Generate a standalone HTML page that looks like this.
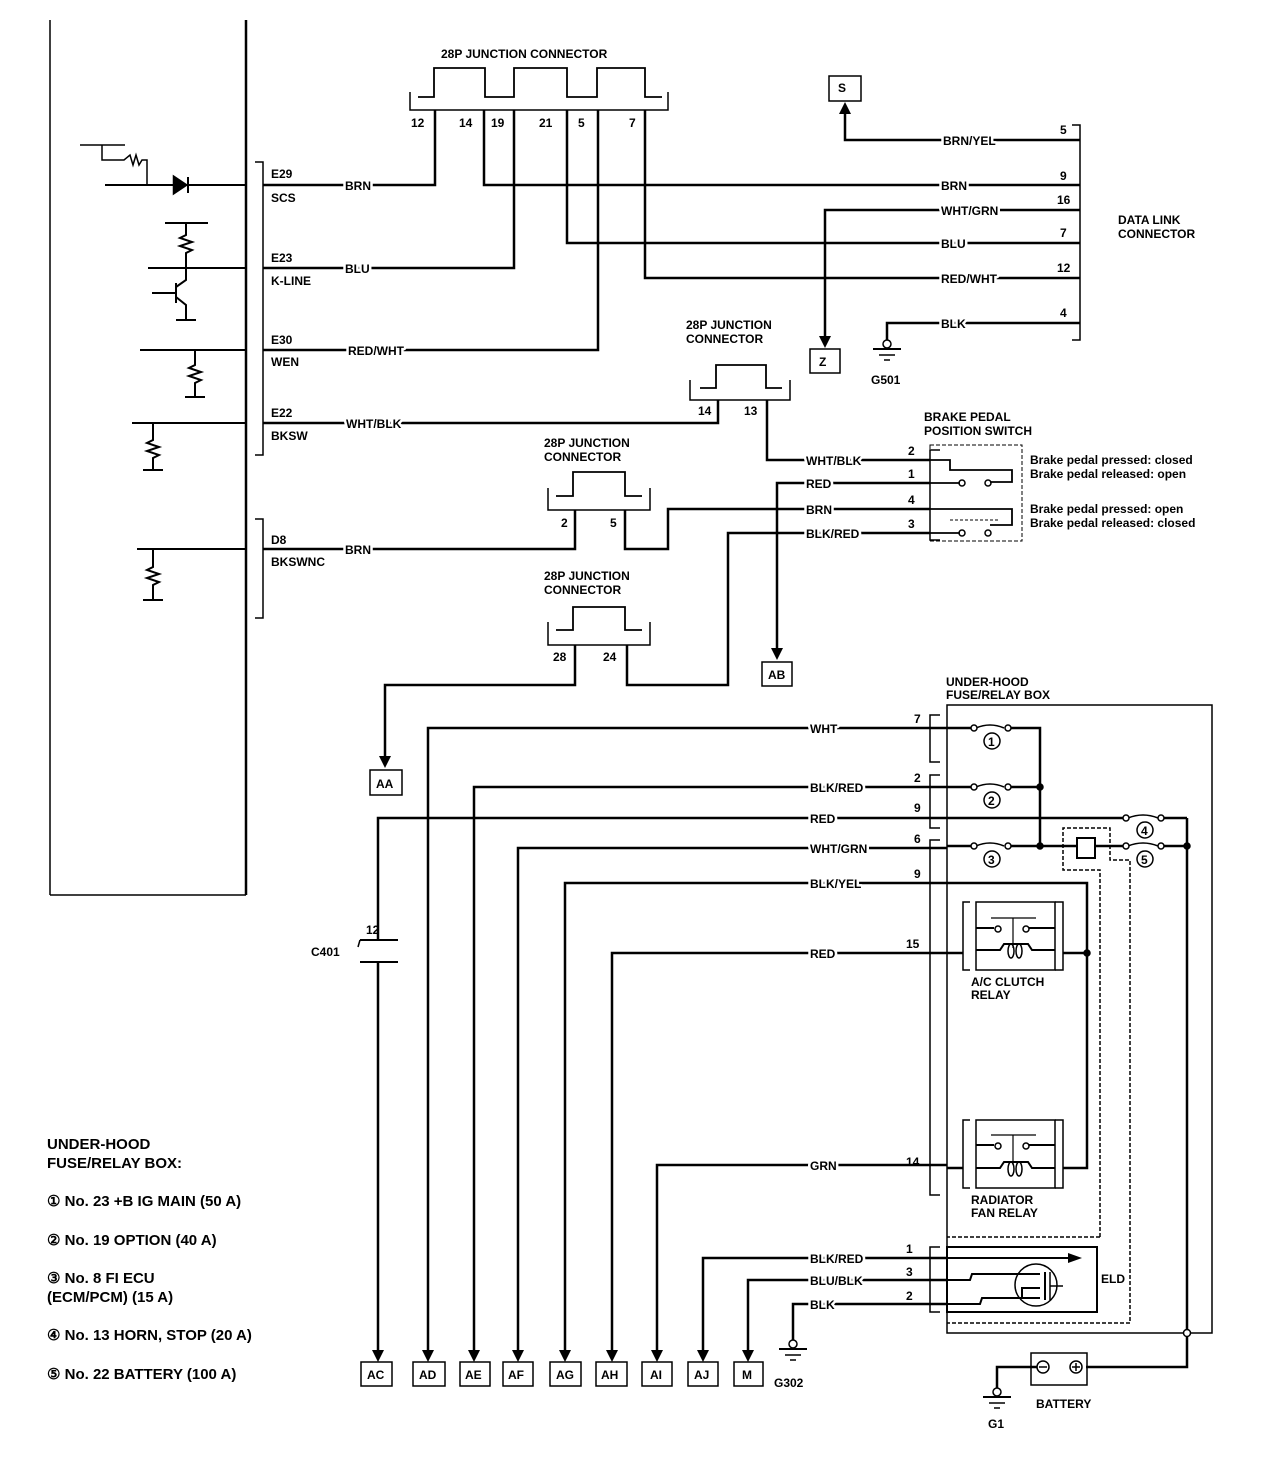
<!DOCTYPE html>
<html><head><meta charset="utf-8"><style>
html,body{margin:0;padding:0;background:#fff;}
svg{display:block;}
text{font-family:"Liberation Sans",sans-serif;font-weight:bold;font-size:12px;fill:#000;}
.b{font-size:15px;}
.w{stroke:#fff;stroke-width:5px;paint-order:stroke;stroke-linejoin:round;}
</style></head><body>
<svg width="1280" height="1476" viewBox="0 0 1280 1476" xmlns="http://www.w3.org/2000/svg">
<g fill="none" stroke="#000" stroke-width="2.5">
<line x1="50" y1="20" x2="50" y2="895" stroke-width="1.5"/>
<line x1="246" y1="20" x2="246" y2="895"/>
<line x1="50" y1="895" x2="246" y2="895" stroke-width="1.5"/>
<polyline points="255,162 263,162 263,455 255,455" stroke-width="1.5"/>
<polyline points="255,519 263,519 263,618 255,618" stroke-width="1.5"/>
<polyline points="80,145 125,145" stroke-width="1.5"/>
<polyline points="102,145 102,160 124,160 130,155 133,165 136,155 139,165 142,160 147,160 147,185" stroke-width="1.5"/>
<line x1="105" y1="185" x2="246" y2="185" stroke-width="2"/>
<polygon points="174,177 174,193 186,185" fill="#000"/>
<line x1="188" y1="177" x2="188" y2="193" stroke-width="2"/>
<line x1="165" y1="223" x2="208" y2="223" stroke-width="2"/>
<polyline points="186,223 186,235 180,238 192,242 180,246 192,250 186,253 186,268" stroke-width="2"/>
<line x1="148" y1="268" x2="246" y2="268" stroke-width="2"/>
<polyline points="186,268 186,280 176,287" stroke-width="2"/>
<line x1="152" y1="293" x2="176" y2="293" stroke-width="2"/>
<line x1="176" y1="283" x2="176" y2="303" stroke-width="2"/>
<polyline points="176,297 186,305 186,320" stroke-width="2"/>
<line x1="176" y1="320" x2="196" y2="320" stroke-width="2"/>
<line x1="140" y1="350" x2="246" y2="350" stroke-width="2"/>
<polyline points="195,350 195,365 189,368 201,372 189,376 201,380 195,383 195,397" stroke-width="2"/>
<line x1="185" y1="397" x2="205" y2="397" stroke-width="2"/>
<line x1="132" y1="423" x2="246" y2="423" stroke-width="2"/>
<polyline points="153,423 153,440 147,443 159,447 147,451 159,455 153,458 153,470" stroke-width="2"/>
<line x1="143" y1="470" x2="163" y2="470" stroke-width="2"/>
<line x1="137" y1="549" x2="246" y2="549" stroke-width="2"/>
<polyline points="153,549 153,567 147,570 159,574 147,578 159,582 153,585 153,600" stroke-width="2"/>
<line x1="143" y1="600" x2="163" y2="600" stroke-width="2"/>
<polyline points="410,92 410,110 668,110 668,92" stroke-width="1.5"/>
<polyline points="418,97 434,97 434,68 485,68 485,97 500,97" stroke-width="1.8"/>
<polyline points="500,97 514,97 514,68 567,68 567,97 582,97" stroke-width="1.8"/>
<polyline points="582,97 597,97 597,68 645,68 645,97 662,97" stroke-width="1.8"/>
<polyline points="263,185 435,185 435,110"/>
<polyline points="484,110 484,185 1080,185"/>
<polyline points="263,268 514,268 514,110"/>
<polyline points="567,110 567,243 1080,243"/>
<polyline points="263,350 598,350 598,110"/>
<polyline points="645,110 645,278 1080,278"/>
<polyline points="1072,125 1080,125 1080,340 1072,340" stroke-width="1.5"/>
<polyline points="1080,140 845,140 845,112"/>
<polygon points="839,114 851,114 845,102" fill="#000" stroke="none"/>
<rect x="829" y="76" width="32" height="25" stroke-width="1.5"/>
<polyline points="1080,210 825,210 825,338"/>
<polygon points="819,336 831,336 825,348" fill="#000" stroke="none"/>
<rect x="810" y="349" width="30" height="24" stroke-width="1.5"/>
<polyline points="1080,323 887,323 887,340"/>
<circle cx="887" cy="344" r="4" stroke-width="1.5"/>
<line x1="873" y1="349" x2="901" y2="349" stroke-width="2"/>
<line x1="879" y1="355" x2="895" y2="355" stroke-width="1.5"/>
<line x1="884" y1="360" x2="890" y2="360" stroke-width="1.5"/>
<polyline points="690,380 690,400 790,400 790,380" stroke-width="1.5"/>
<polyline points="700,388 716,388 716,365 766,365 766,388 782,388" stroke-width="1.8"/>
<polyline points="263,423 718,423 718,400"/>
<polyline points="767,400 767,460 930,460"/>
<rect x="930" y="445" width="92" height="96" stroke-width="1" stroke-dasharray="4,2"/>
<polyline points="940,450 930,450 930,540 940,540" stroke-width="1.5"/>
<polyline points="930,460 950,460 950,470 1012,470 1012,482 990,482" stroke-width="1.8"/>
<polyline points="930,483 960,483" stroke-width="1.8"/>
<circle cx="962" cy="483" r="3" stroke-width="1.5"/><circle cx="988" cy="483" r="3" stroke-width="1.5"/>
<polyline points="930,509 1012,509 1012,525 990,525" stroke-width="1.8"/>
<polyline points="950,520 1000,520" stroke-width="1" stroke-dasharray="3,2"/>
<polyline points="930,533 960,533" stroke-width="1.8"/>
<circle cx="962" cy="533" r="3" stroke-width="1.5"/><circle cx="988" cy="533" r="3" stroke-width="1.5"/>
<polyline points="548,488 548,510 650,510 650,488" stroke-width="1.5"/>
<polyline points="556,496 573,496 573,472 625,472 625,496 642,496" stroke-width="1.8"/>
<polyline points="263,549 575,549 575,510"/>
<polyline points="625,510 625,549 668,549 668,509 930,509"/>
<polyline points="930,483 777,483 777,650"/>
<polygon points="771,648 783,648 777,660" fill="#000" stroke="none"/>
<rect x="762" y="662" width="30" height="24" stroke-width="1.5"/>
<polyline points="930,533 728,533 728,685 627,685 627,645"/>
<polyline points="548,622 548,645 650,645 650,622" stroke-width="1.5"/>
<polyline points="556,630 573,630 573,607 625,607 625,630 642,630" stroke-width="1.8"/>
<polyline points="575,645 575,685 385,685 385,758"/>
<polygon points="379,756 391,756 385,768" fill="#000" stroke="none"/>
<rect x="370" y="770" width="32" height="25" stroke-width="1.5"/>
<polyline points="947,728 428,728 428,1352"/>
<polyline points="947,787 474,787 474,1352"/>
<polyline points="1123,818 378,818 378,940"/>
<polyline points="1164,818 1187,818"/>
<polyline points="378,962 378,1352"/>
<polyline points="947,848 518,848 518,1352"/>
<polyline points="947,883 565,883 565,1352"/>
<polyline points="947,953 612,953 612,1352"/>
<polyline points="947,1165 657,1165 657,1352"/>
<polyline points="947,1258 703,1258 703,1352"/>
<polyline points="947,1280 748,1280 748,1352"/>
<polyline points="947,1304 793,1304 793,1340"/>
<circle cx="793" cy="1344" r="4" stroke-width="1.5"/>
<line x1="779" y1="1349" x2="807" y2="1349" stroke-width="2"/>
<line x1="785" y1="1355" x2="801" y2="1355" stroke-width="1.5"/>
<line x1="790" y1="1360" x2="796" y2="1360" stroke-width="1.5"/>
<g stroke="#000" fill="#000" stroke-width="0">
<polygon points="372,1350 384,1350 378,1362"/><polygon points="422,1350 434,1350 428,1362"/>
<polygon points="468,1350 480,1350 474,1362"/><polygon points="512,1350 524,1350 518,1362"/>
<polygon points="559,1350 571,1350 565,1362"/><polygon points="606,1350 618,1350 612,1362"/>
<polygon points="651,1350 663,1350 657,1362"/><polygon points="697,1350 709,1350 703,1362"/>
<polygon points="742,1350 754,1350 748,1362"/>
</g>
<polyline points="360,940 398,940" stroke-width="2"/>
<polyline points="358,947 360,940" stroke-width="1.5"/>
<polyline points="360,962 398,962" stroke-width="2"/>
<rect x="361" y="1362" width="31" height="24" stroke-width="1.5"/>
<rect x="413" y="1362" width="32" height="24" stroke-width="1.5"/>
<rect x="460" y="1362" width="30" height="24" stroke-width="1.5"/>
<rect x="503" y="1362" width="30" height="24" stroke-width="1.5"/>
<rect x="550" y="1362" width="31" height="24" stroke-width="1.5"/>
<rect x="596" y="1362" width="31" height="24" stroke-width="1.5"/>
<rect x="642" y="1362" width="30" height="24" stroke-width="1.5"/>
<rect x="688" y="1362" width="30" height="24" stroke-width="1.5"/>
<rect x="734" y="1362" width="29" height="24" stroke-width="1.5"/>
<rect x="947" y="705" width="265" height="628" stroke-width="1.5"/>
<polyline points="940,715 930,715 930,762 940,762" stroke-width="1.5"/>
<polyline points="940,775 930,775 930,828 940,828" stroke-width="1.5"/>
<polyline points="940,840 930,840 930,1195 940,1195" stroke-width="1.5"/>
<polyline points="940,1247 930,1247 930,1312 940,1312" stroke-width="1.5"/>
<polyline points="947,728 972,728"/><polyline points="1008,728 1040,728 1040,846"/>
<path d="M976,728 Q990,722 1004,728" stroke-width="1.5"/>
<circle cx="974" cy="728" r="3" fill="#fff" stroke-width="1.5"/><circle cx="1008" cy="728" r="3" fill="#fff" stroke-width="1.5"/>
<polyline points="947,787 972,787"/><polyline points="1008,787 1040,787"/>
<path d="M976,787 Q990,781 1004,787" stroke-width="1.5"/>
<circle cx="974" cy="787" r="3" fill="#fff" stroke-width="1.5"/><circle cx="1008" cy="787" r="3" fill="#fff" stroke-width="1.5"/>
<polyline points="947,846 972,846"/><polyline points="1008,846 1078,846"/>
<path d="M976,846 Q990,840 1004,846" stroke-width="1.5"/>
<circle cx="974" cy="846" r="3" fill="#fff" stroke-width="1.5"/><circle cx="1008" cy="846" r="3" fill="#fff" stroke-width="1.5"/>
<rect x="1077" y="838" width="18" height="20" stroke-width="2"/>
<polyline points="1095,846 1125,846"/><polyline points="1162,846 1187,846"/>
<path d="M1128,846 Q1143,840 1158,846" stroke-width="1.5"/>
<circle cx="1126" cy="846" r="3" fill="#fff" stroke-width="1.5"/><circle cx="1161" cy="846" r="3" fill="#fff" stroke-width="1.5"/>
<path d="M1128,818 Q1143,812 1158,818" stroke-width="1.5"/>
<circle cx="1126" cy="818" r="3" fill="#fff" stroke-width="1.5"/><circle cx="1161" cy="818" r="3" fill="#fff" stroke-width="1.5"/>
<polyline points="1187,818 1187,1333 1187,1367 1086,1367"/>
<circle cx="1040" cy="787" r="2.5" fill="#000"/><circle cx="1040" cy="846" r="2.5" fill="#000"/><circle cx="1187" cy="846" r="2.5" fill="#000"/>
<circle cx="1187" cy="1333" r="3.5" fill="#fff" stroke-width="1.5"/>
<polyline points="1100,1237 1100,870 1063,870 1063,828 1110,828 1110,860 1130,860 1130,1323 947,1323" stroke-width="1.5" stroke-dasharray="4,2"/>
<polyline points="1100,1237 947,1237" stroke-width="1.5" stroke-dasharray="4,2"/>
<polyline points="947,883 1087,883 1087,1168 1063,1168"/>
<line x1="1063" y1="953" x2="1087" y2="953"/>
<circle cx="1087" cy="953" r="2.5" fill="#000"/>
<polyline points="970,902 963,902 963,970 970,970" stroke-width="1.5"/>
<polyline points="1055,902 1063,902 1063,970 1055,970" stroke-width="1.5"/>
<rect x="976" y="902" width="79" height="68" stroke-width="1.5"/>
<line x1="991" y1="918" x2="1036" y2="918" stroke-width="1.2"/>
<line x1="1013" y1="918" x2="1013" y2="948" stroke-width="1.2"/>
<polyline points="976,928 994,928" stroke-width="2"/><polyline points="1029,928 1055,928" stroke-width="2"/>
<circle cx="998" cy="929" r="3" stroke-width="1.5"/><circle cx="1026" cy="929" r="3" stroke-width="1.5"/>
<polyline points="976,950 1000,950 1004,944 1028,944 1032,950 1055,950" stroke-width="2"/>
<ellipse cx="1011" cy="951" rx="3" ry="7" stroke-width="1.5"/><ellipse cx="1019" cy="951" rx="3" ry="7" stroke-width="1.5"/>
<line x1="947" y1="953" x2="963" y2="953"/>
<polyline points="970,1120 963,1120 963,1188 970,1188" stroke-width="1.5"/>
<polyline points="1055,1120 1063,1120 1063,1188 1055,1188" stroke-width="1.5"/>
<rect x="976" y="1120" width="79" height="68" stroke-width="1.5"/>
<line x1="991" y1="1135" x2="1036" y2="1135" stroke-width="1.2"/>
<line x1="1013" y1="1135" x2="1013" y2="1165" stroke-width="1.2"/>
<polyline points="976,1145 994,1145" stroke-width="2"/><polyline points="1029,1145 1055,1145" stroke-width="2"/>
<circle cx="998" cy="1146" r="3" stroke-width="1.5"/><circle cx="1026" cy="1146" r="3" stroke-width="1.5"/>
<polyline points="976,1168 1000,1168 1004,1162 1028,1162 1032,1168 1055,1168" stroke-width="2"/>
<ellipse cx="1011" cy="1169" rx="3" ry="7" stroke-width="1.5"/><ellipse cx="1019" cy="1169" rx="3" ry="7" stroke-width="1.5"/>
<line x1="947" y1="1168" x2="963" y2="1168"/>
<rect x="947" y="1247" width="150" height="65" stroke-width="2"/>
<line x1="947" y1="1258" x2="1072" y2="1258" stroke-width="2"/>
<polygon points="1068,1253 1082,1258 1068,1263" fill="#000" stroke="none"/>
<polyline points="947,1280 970,1280 972,1274 1040,1274" stroke-width="2"/>
<polyline points="947,1304 980,1304 982,1298 1040,1298" stroke-width="2"/>
<circle cx="1036" cy="1285" r="21" stroke-width="1.5"/>
<polyline points="1022,1298 1022,1288 1040,1288" stroke-width="2"/>
<line x1="1045" y1="1272" x2="1045" y2="1300" stroke-width="2"/>
<line x1="1050" y1="1272" x2="1050" y2="1300" stroke-width="1.5"/>
<line x1="1050" y1="1286" x2="1063" y2="1286" stroke-width="1.5"/>
<rect x="1031" y="1353" width="56" height="32" stroke-width="1.5"/>
<circle cx="1043" cy="1367" r="6" stroke-width="1.5"/>
<line x1="1039" y1="1367" x2="1047" y2="1367" stroke-width="1.5"/>
<circle cx="1076" cy="1367" r="6" stroke-width="1.5"/>
<line x1="1072" y1="1367" x2="1080" y2="1367" stroke-width="1.5"/><line x1="1076" y1="1363" x2="1076" y2="1371" stroke-width="1.5"/>
<polyline points="1037,1367 997,1367 997,1388"/>
<circle cx="997" cy="1392" r="4" stroke-width="1.5"/>
<line x1="983" y1="1397" x2="1011" y2="1397" stroke-width="2"/>
<line x1="989" y1="1403" x2="1005" y2="1403" stroke-width="1.5"/>
<line x1="994" y1="1408" x2="1000" y2="1408" stroke-width="1.5"/>
</g>
<g font-size="12">
<circle cx="992" cy="741" r="8" fill="none" stroke="#000" stroke-width="1.5"/><text x="988" y="746">1</text>
<circle cx="992" cy="800" r="8" fill="none" stroke="#000" stroke-width="1.5"/><text x="988" y="805">2</text>
<circle cx="992" cy="859" r="8" fill="none" stroke="#000" stroke-width="1.5"/><text x="988" y="864">3</text>
<circle cx="1145" cy="830" r="8" fill="none" stroke="#000" stroke-width="1.5"/><text x="1141" y="835">4</text>
<circle cx="1145" cy="859" r="8" fill="none" stroke="#000" stroke-width="1.5"/><text x="1141" y="864">5</text>
</g>
<text x="441" y="58">28P JUNCTION CONNECTOR</text>
<text x="411" y="127">12</text><text x="459" y="127">14</text><text x="491" y="127">19</text><text x="539" y="127">21</text><text x="578" y="127">5</text><text x="629" y="127">7</text>
<text x="271" y="178">E29</text><text x="271" y="202">SCS</text><text class="w" x="345" y="190">BRN</text>
<text x="271" y="262">E23</text><text x="271" y="285">K-LINE</text><text class="w" x="345" y="273">BLU</text>
<text x="271" y="344">E30</text><text x="271" y="366">WEN</text><text class="w" x="348" y="355">RED/WHT</text>
<text x="271" y="417">E22</text><text x="271" y="440">BKSW</text><text class="w" x="346" y="428">WHT/BLK</text>
<text x="271" y="544">D8</text><text x="271" y="566">BKSWNC</text><text class="w" x="345" y="554">BRN</text>
<text x="838" y="92">S</text>
<text class="w" x="943" y="145">BRN/YEL</text><text x="1060" y="134">5</text>
<text class="w" x="941" y="190">BRN</text><text x="1060" y="180">9</text>
<text class="w" x="941" y="215">WHT/GRN</text><text x="1057" y="204">16</text>
<text class="w" x="941" y="248">BLU</text><text x="1060" y="237">7</text>
<text class="w" x="941" y="283">RED/WHT</text><text x="1057" y="272">12</text>
<text class="w" x="941" y="328">BLK</text><text x="1060" y="317">4</text>
<text x="1118" y="224">DATA LINK</text><text x="1118" y="238">CONNECTOR</text>
<text x="819" y="366">Z</text><text x="871" y="384">G501</text>
<text x="686" y="329">28P JUNCTION</text><text x="686" y="343">CONNECTOR</text>
<text x="698" y="415">14</text><text x="744" y="415">13</text>
<text x="924" y="421">BRAKE PEDAL</text><text x="924" y="435">POSITION SWITCH</text>
<text class="w" x="806" y="465">WHT/BLK</text><text x="908" y="455">2</text>
<text class="w" x="806" y="488">RED</text><text x="908" y="478">1</text>
<text class="w" x="806" y="514">BRN</text><text x="908" y="504">4</text>
<text class="w" x="806" y="538">BLK/RED</text><text x="908" y="528">3</text>
<text x="1030" y="464" font-size="11">Brake pedal pressed: closed</text>
<text x="1030" y="478" font-size="11">Brake pedal released: open</text>
<text x="1030" y="513" font-size="11">Brake pedal pressed: open</text>
<text x="1030" y="527" font-size="11">Brake pedal released: closed</text>
<text x="544" y="447">28P JUNCTION</text><text x="544" y="461">CONNECTOR</text>
<text x="561" y="527">2</text><text x="610" y="527">5</text>
<text x="768" y="679">AB</text>
<text x="544" y="580">28P JUNCTION</text><text x="544" y="594">CONNECTOR</text>
<text x="553" y="661">28</text><text x="603" y="661">24</text>
<text x="376" y="788">AA</text>
<text x="946" y="686">UNDER-HOOD</text><text x="946" y="699">FUSE/RELAY BOX</text>
<text class="w" x="810" y="733">WHT</text><text x="914" y="723">7</text>
<text class="w" x="810" y="792">BLK/RED</text><text x="914" y="782">2</text>
<text class="w" x="810" y="823">RED</text><text x="914" y="812">9</text>
<text class="w" x="810" y="853">WHT/GRN</text><text x="914" y="843">6</text>
<text class="w" x="810" y="888">BLK/YEL</text><text x="914" y="878">9</text>
<text class="w" x="810" y="958">RED</text><text x="906" y="948">15</text>
<text class="w" x="810" y="1170">GRN</text><text x="906" y="1166">14</text>
<text class="w" x="810" y="1263">BLK/RED</text><text x="906" y="1253">1</text>
<text class="w" x="810" y="1285">BLU/BLK</text><text x="906" y="1276">3</text>
<text class="w" x="810" y="1309">BLK</text><text x="906" y="1300">2</text>
<text x="366" y="934">12</text><text x="311" y="956">C401</text>
<text x="971" y="986">A/C CLUTCH</text><text x="971" y="999">RELAY</text>
<text x="971" y="1204">RADIATOR</text><text x="971" y="1217">FAN RELAY</text>
<text x="1101" y="1283">ELD</text>
<text x="1036" y="1408">BATTERY</text><text x="988" y="1428">G1</text>
<text x="774" y="1387">G302</text>
<text x="367" y="1379">AC</text><text x="419" y="1379">AD</text><text x="465" y="1379">AE</text><text x="508" y="1379">AF</text><text x="556" y="1379">AG</text><text x="601" y="1379">AH</text><text x="650" y="1379">AI</text><text x="694" y="1379">AJ</text><text x="742" y="1379">M</text>
<text class="b" x="47" y="1149">UNDER-HOOD</text>
<text class="b" x="47" y="1168">FUSE/RELAY BOX:</text>
<text class="b" x="47" y="1206">① No. 23 +B IG MAIN (50 A)</text>
<text class="b" x="47" y="1245">② No. 19 OPTION (40 A)</text>
<text class="b" x="47" y="1283">③ No. 8 FI ECU</text>
<text class="b" x="47" y="1302"> (ECM/PCM) (15 A)</text>
<text class="b" x="47" y="1340">④ No. 13 HORN, STOP (20 A)</text>
<text class="b" x="47" y="1379">⑤ No. 22 BATTERY (100 A)</text>
</svg>
</body></html>
